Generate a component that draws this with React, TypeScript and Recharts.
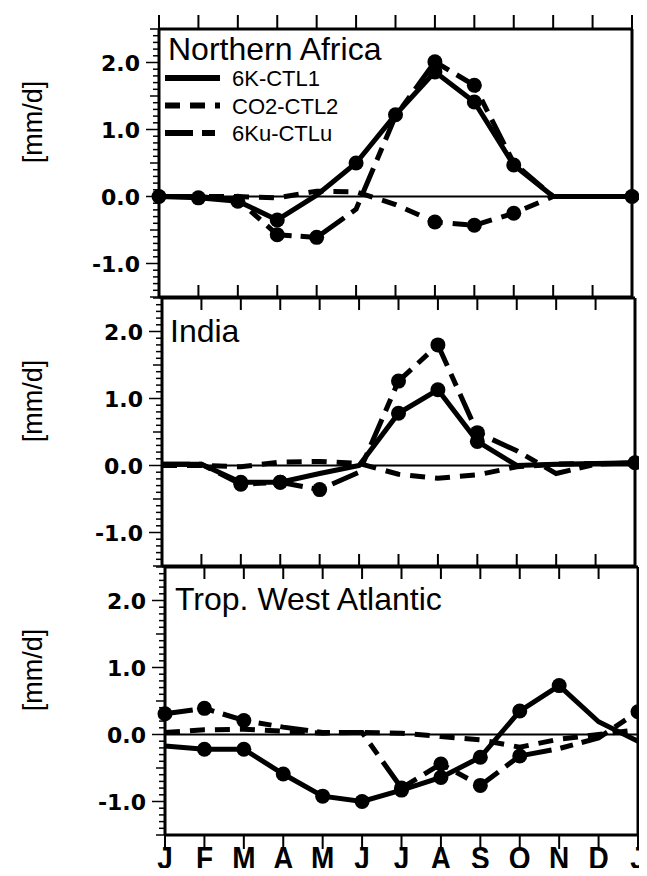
import { LineChart, Line, XAxis, YAxis, ReferenceLine, Legend } from "recharts";

const months = ["J", "F", "M", "A", "M", "J", "J", "A", "S", "O", "N", "D", "J"];
const monthIdx = [0, 1, 2, 3, 4, 5, 6, 7, 8, 9, 10, 11, 12];
const yMajor = [-1, 0, 1, 2];
const yDomain = [-1.5, 2.5];

const seriesNames = ["6K-CTL1", "CO2-CTL2", "6Ku-CTLu"];
const dashes = [undefined, "15 10", "28 9 13 9"];

// Northern Africa
const naCtl1 = [0.0, -0.02, -0.07, -0.35, 0.02, 0.5, 1.22, 1.86, 1.41, 0.47, 0.0, 0.0, 0.0];
const naCo2 = [0.0, 0.0, 0.0, -0.02, 0.08, 0.07, -0.12, -0.38, -0.43, -0.25, 0.0, 0.0, 0.0];
const naKu = [0.0, 0.0, -0.05, -0.57, -0.61, -0.19, 1.2, 2.01, 1.66, 0.5, 0.0, 0.0, 0.0];
const naCtl1Dots = [1, 1, 1, 1, 0, 1, 1, 1, 1, 1, 0, 0, 1];
const naCo2Dots = [0, 0, 0, 0, 0, 0, 0, 1, 1, 1, 0, 0, 0];
const naKuDots = [0, 0, 0, 1, 1, 0, 0, 1, 1, 0, 0, 0, 0];

// India
const inCtl1 = [0.02, 0.02, -0.25, -0.25, -0.12, 0.0, 0.78, 1.13, 0.36, 0.0, 0.02, 0.03, 0.04];
const inCo2 = [0.0, 0.0, -0.02, 0.05, 0.06, 0.03, -0.13, -0.19, -0.14, -0.02, 0.02, 0.03, 0.03];
const inKu = [0.02, 0.02, -0.28, -0.25, -0.36, -0.1, 1.26, 1.8, 0.49, 0.22, -0.12, 0.02, 0.04];
const inCtl1Dots = [0, 0, 1, 1, 0, 0, 1, 1, 1, 0, 0, 0, 1];
const inCo2Dots = [0, 0, 0, 0, 0, 0, 0, 0, 0, 0, 0, 0, 0];
const inKuDots = [0, 0, 1, 1, 1, 0, 1, 1, 1, 0, 0, 0, 0];

// Trop. West Atlantic
const twCtl1 = [-0.17, -0.22, -0.22, -0.59, -0.92, -1.0, -0.83, -0.64, -0.34, 0.35, 0.73, 0.19, -0.1];
const twCo2 = [0.03, 0.07, 0.08, 0.05, 0.02, 0.03, 0.02, -0.03, -0.08, -0.19, -0.07, 0.0, 0.07];
const twKu = [0.31, 0.39, 0.21, 0.11, 0.03, 0.03, -0.8, -0.44, -0.76, -0.32, -0.21, -0.05, 0.34];
const twCtl1Dots = [0, 1, 1, 1, 1, 1, 1, 1, 1, 1, 1, 0, 0];
const twCo2Dots = [0, 0, 0, 0, 0, 0, 0, 0, 0, 0, 0, 0, 0];
const twKuDots = [1, 1, 1, 0, 0, 0, 1, 1, 1, 1, 0, 0, 1];

const minorTicks: number[] = [];
for (let k = -15; k <= 25; k++) minorTicks.push(k / 10);

const PLOT_W = 473;
const PLOT_H = 268;
const CHART_W = 660;
const PAGE_H = 876;
const SANS = "'Liberation Sans', Arial, sans-serif";

const makeDot = (flags: number[]) => (p: any) =>
  flags[p.index] ? (
    <circle key={`d-${p.index}`} cx={p.cx} cy={p.cy} r={7.5} fill="#000" />
  ) : (
    <g key={`d-${p.index}`} />
  );

const bottomTick = (outward: boolean) => (p: any) => {
  const { x, y, payload } = p;
  return (
    <g>
      <line x1={x} x2={x} y1={y} y2={outward ? y + 14 : y - 12} stroke="#000" strokeWidth={2} />
      {outward && (
        <text
          transform={`translate(${x},${y + 34}) scale(1,1.15)`}
          textAnchor="middle"
          fontFamily={SANS}
          fontWeight="bold"
          fontSize={28}
          fill="#000"
        >
          {months[payload.value]}
        </text>
      )}
    </g>
  );
};

const topTick = (outward: boolean) => (p: any) => {
  const { x, y } = p;
  return <line x1={x} x2={x} y1={y} y2={outward ? y - 14 : y + 12} stroke="#000" strokeWidth={2} />;
};

const tickLen = (v: number) => {
  const k = Math.round(v * 10);
  if (k % 10 === 0) return 13;
  if (k % 5 === 0) return 9;
  return 6;
};

const leftTick = (p: any) => {
  const { x, y, payload } = p;
  const v = payload.value;
  const major = yMajor.includes(Math.round(v * 10) / 10);
  return (
    <g>
      <line x1={x} x2={x - tickLen(v)} y1={y} y2={y} stroke="#000" strokeWidth={1.5} />
      {major && (
        <text
          x={x - 19}
          y={y + 8}
          textAnchor="end"
          fontFamily="'DejaVu Sans', sans-serif"
          fontWeight="bold"
          fontSize={22}
          fill="#000"
        >
          {v.toFixed(1)}
        </text>
      )}
    </g>
  );
};

const rightTick = (p: any) => {
  const { x, y, payload } = p;
  const len = tickLen(payload.value) * 0.7;
  return <line x1={x} x2={x + len} y1={y} y2={y} stroke="#000" strokeWidth={1.5} />;
};

const LegendBox = () => (
  <svg width={200} height={80} style={{ display: "block" }}>
    {seriesNames.map((name, i) => (
      <g key={name}>
        <line
          x1={5}
          x2={60}
          y1={12 + i * 27.5}
          y2={12 + i * 27.5}
          stroke="#000"
          strokeWidth={6}
          strokeDasharray={dashes[i]}
        />
        <text x={72} y={20 + i * 27.5} fontFamily={SANS} fontSize={22} fill="#000">
          {name}
        </text>
      </g>
    ))}
  </svg>
);

type PanelProps = {
  title: string;
  titleX: number;
  titleY: number;
  unitY: number;
  top: number;
  left: number;
  first: boolean;
  last: boolean;
  legend: boolean;
  ctl1: number[];
  co2: number[];
  ku: number[];
  ctl1Dots: number[];
  co2Dots: number[];
  kuDots: number[];
};

function Panel(props: PanelProps) {
  const { top, left, first, last } = props;
  const data = monthIdx.map((i) => ({
    i,
    ctl1: props.ctl1[i],
    co2: props.co2[i],
    ku: props.ku[i],
  }));
  const rightW = 15;
  const marginRight = CHART_W - left - PLOT_W - rightW;
  return (
    <div style={{ position: "absolute", left: 0, top: 0 }}>
      <LineChart
        width={CHART_W}
        height={PAGE_H}
        data={data}
        margin={{ top: top - 1, right: marginRight, bottom: PAGE_H - top - PLOT_H - 1, left: 0 }}
      >
        <XAxis
          xAxisId="b"
          dataKey="i"
          type="number"
          domain={[0, 12]}
          ticks={monthIdx}
          interval={0}
          height={1}
          tickSize={0}
          tickMargin={0}
          tickLine={false}
          axisLine={{ stroke: "#000", strokeWidth: 3 }}
          tick={bottomTick(last)}
        />
        <XAxis
          xAxisId="t"
          orientation="top"
          dataKey="i"
          type="number"
          domain={[0, 12]}
          ticks={monthIdx}
          interval={0}
          height={1}
          tickSize={0}
          tickMargin={0}
          tickLine={false}
          axisLine={{ stroke: "#000", strokeWidth: 3 }}
          tick={topTick(first)}
          label={() => (
            <text x={props.titleX} y={props.titleY} fontFamily={SANS} fontSize={32} fill="#000">
              {props.title}
            </text>
          )}
        />
        <YAxis
          yAxisId="l"
          type="number"
          domain={yDomain}
          ticks={minorTicks}
          interval={0}
          width={left}
          tickSize={0}
          tickMargin={0}
          tickLine={false}
          axisLine={{ stroke: "#000", strokeWidth: 3 }}
          tick={leftTick}
          label={() => (
            <text
              transform={`translate(42,${props.unitY}) rotate(-90)`}
              textAnchor="middle"
              fontFamily={SANS}
              fontSize={27}
              fill="#000"
            >
              [mm/d]
            </text>
          )}
        />
        <YAxis
          yAxisId="r"
          orientation="right"
          type="number"
          domain={yDomain}
          ticks={minorTicks}
          interval={0}
          width={rightW}
          tickSize={0}
          tickMargin={0}
          tickLine={false}
          axisLine={{ stroke: "#000", strokeWidth: 3 }}
          tick={rightTick}
        />
        <ReferenceLine xAxisId="b" yAxisId="l" y={0} stroke="#000" strokeWidth={2} />
        <Line
          xAxisId="b"
          yAxisId="l"
          type="linear"
          dataKey="ctl1"
          name={seriesNames[0]}
          stroke="#000"
          strokeWidth={5}
          dot={makeDot(props.ctl1Dots)}
          activeDot={false}
          isAnimationActive={false}
        />
        <Line
          xAxisId="b"
          yAxisId="l"
          type="linear"
          dataKey="co2"
          name={seriesNames[1]}
          stroke="#000"
          strokeWidth={5}
          strokeDasharray={dashes[1]}
          dot={makeDot(props.co2Dots)}
          activeDot={false}
          isAnimationActive={false}
        />
        <Line
          xAxisId="b"
          yAxisId="l"
          type="linear"
          dataKey="ku"
          name={seriesNames[2]}
          stroke="#000"
          strokeWidth={5}
          strokeDasharray={dashes[2]}
          dot={makeDot(props.kuDots)}
          activeDot={false}
          isAnimationActive={false}
        />
        {props.legend && (
          <Legend
            layout="vertical"
            align="center"
            verticalAlign="middle"
            wrapperStyle={{ left: 160, top: 66, width: 200 }}
            content={() => <LegendBox />}
          />
        )}
      </LineChart>
    </div>
  );
}

export default function App() {
  return (
    <div
      style={{
        position: "relative",
        width: 647,
        height: PAGE_H,
        margin: -8,
        overflow: "hidden",
        background: "#fff",
      }}
    >
      <Panel
        title="Northern Africa"
        titleX={168}
        titleY={60}
        unitY={122}
        top={29}
        left={159}
        first
        last={false}
        legend
        ctl1={naCtl1}
        co2={naCo2}
        ku={naKu}
        ctl1Dots={naCtl1Dots}
        co2Dots={naCo2Dots}
        kuDots={naKuDots}
      />
      <Panel
        title="India"
        titleX={170}
        titleY={342}
        unitY={401}
        top={298}
        left={162}
        first={false}
        last={false}
        legend={false}
        ctl1={inCtl1}
        co2={inCo2}
        ku={inKu}
        ctl1Dots={inCtl1Dots}
        co2Dots={inCo2Dots}
        kuDots={inKuDots}
      />
      <Panel
        title="Trop. West Atlantic"
        titleX={175}
        titleY={610}
        unitY={670}
        top={567}
        left={165}
        first={false}
        last
        legend={false}
        ctl1={twCtl1}
        co2={twCo2}
        ku={twKu}
        ctl1Dots={twCtl1Dots}
        co2Dots={twCo2Dots}
        kuDots={twKuDots}
      />
    </div>
  );
}
